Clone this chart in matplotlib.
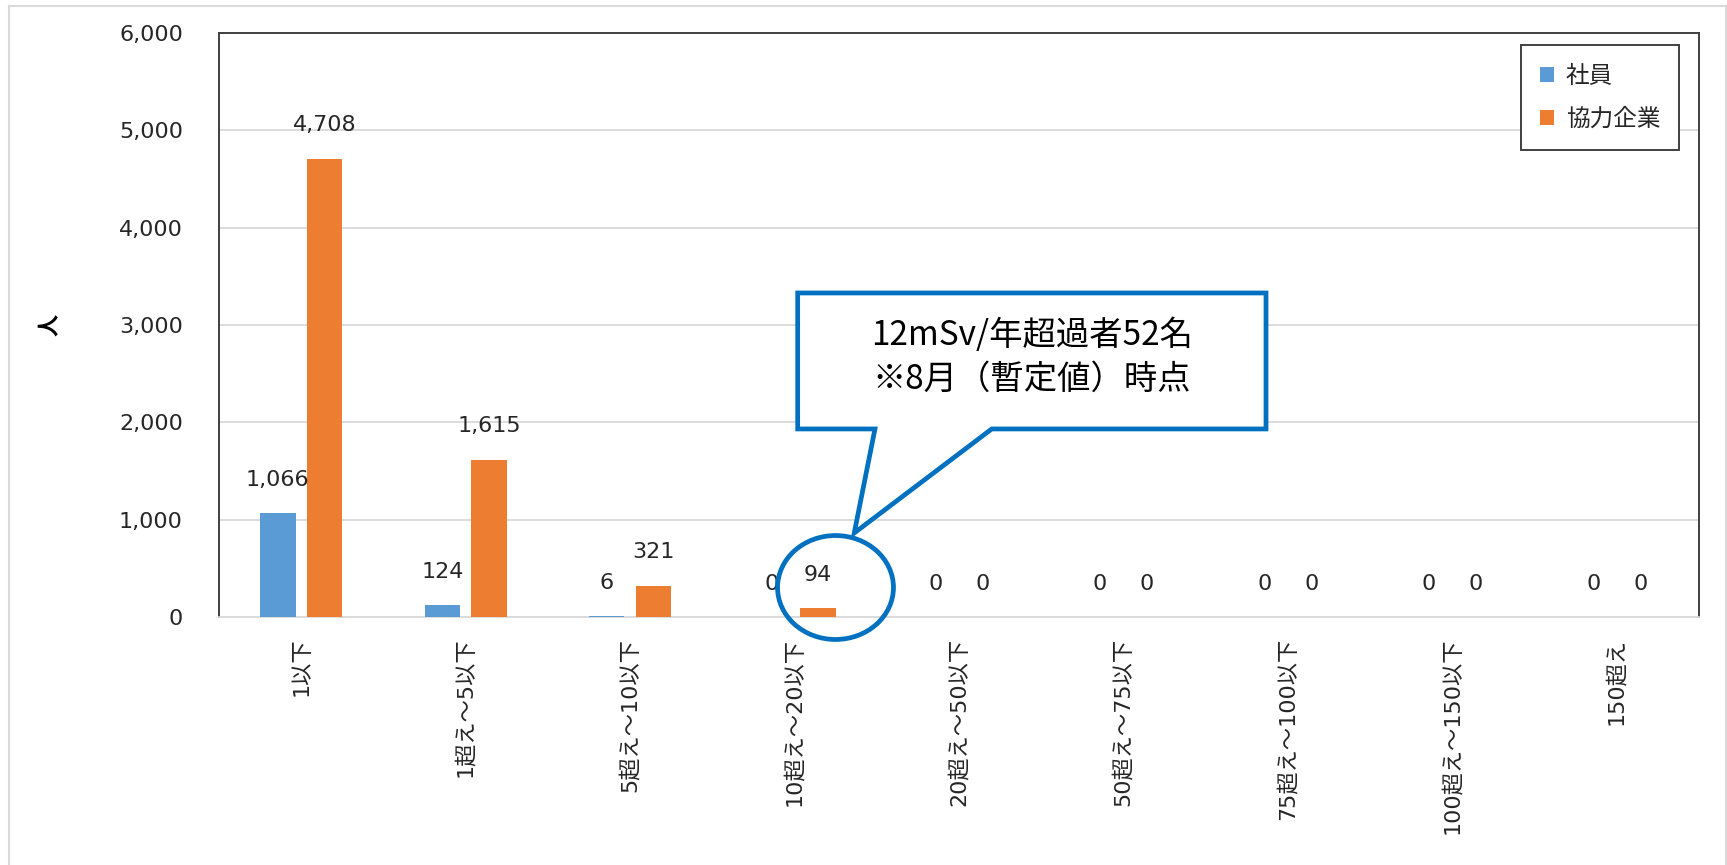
import matplotlib
matplotlib.use("Agg")
import matplotlib.pyplot as plt
import numpy as np
from matplotlib.patches import Patch, Polygon, Ellipse
from matplotlib.lines import Line2D

plt.rcParams['font.family'] = ['DejaVu Sans', 'Noto Sans CJK JP']

# --- datos ---
categories = ["1以下", "1超え～5以下", "5超え～10以下", "10超え～20以下", "20超え～50以下",
              "50超え～75以下", "75超え～100以下", "100超え～150以下", "150超え"]
employees = [1066, 124, 6, 0, 0, 0, 0, 0, 0]        # 社員
contractors = [4708, 1615, 321, 94, 0, 0, 0, 0, 0]  # 協力企業
series_names = ["社員", "協力企業"]
y_ticks = [0, 1000, 2000, 3000, 4000, 5000, 6000]

blue = '#5B9BD5'
orange = '#ED7D31'
text_col = '#262626'

W, H = 1727, 865
fig = plt.figure(figsize=(W / 100, H / 100), dpi=100)
ax = fig.add_axes([219 / W, (H - 617) / H, 1480 / W, 584 / H])

x = np.arange(len(categories))
bw = 0.215
off = 0.142
b1 = ax.bar(x - off, employees, bw, color=blue, zorder=3)
b2 = ax.bar(x + off, contractors, bw, color=orange, zorder=3)

# etiquetas de valor encima de las barras
for bars in (b1, b2):
    for bar in bars:
        h = bar.get_height()
        ax.annotate(f"{h:,.0f}", (bar.get_x() + bar.get_width() / 2, h),
                    xytext=(0, 24), textcoords='offset points',
                    ha='center', va='center', fontsize=16, color=text_col, zorder=4)

ax.set_xlim(-0.5, len(categories) - 0.5)
ax.set_ylim(0, 6000)
ax.set_yticks(y_ticks)
ax.set_yticklabels([f"{v:,}" for v in y_ticks])
ax.set_xticks(x)
ax.set_xticklabels(categories, rotation=90, va='top', ha='center')
ax.tick_params(axis='both', length=0, labelsize=16, labelcolor=text_col)
ax.tick_params(axis='y', pad=26)
ax.tick_params(axis='x', pad=15)

ax.grid(axis='y', color='#D9D9D9', lw=1.3, zorder=0)
ax.set_axisbelow(True)
for s in ('left', 'top', 'right'):
    ax.spines[s].set_color('#404040')
    ax.spines[s].set_linewidth(1.4)
ax.spines['bottom'].set_color('#D9D9D9')
ax.spines['bottom'].set_linewidth(1.3)

ax.set_ylabel("人", rotation=90, va='center', fontsize=16, fontweight='bold', color='black')
ax.yaxis.set_label_coords(-0.114, 0.5)

# leyenda
handles = [Patch(facecolor=blue, edgecolor='none'), Patch(facecolor=orange, edgecolor='none')]
leg = ax.legend(handles, series_names, loc='upper right', bbox_to_anchor=(0.9865, 0.9795),
                borderaxespad=0, fancybox=False, fontsize=17, handlelength=0.6,
                handleheight=0.6, handletextpad=0.5, labelspacing=0.8,
                borderpad=0.8, framealpha=1)
leg.get_frame().set_edgecolor('#404040')
leg.get_frame().set_linewidth(1.4)
for t in leg.get_texts():
    t.set_color(text_col)

# globo de comentario y círculo
callout = [(3.019, 3329), (5.867, 3329), (5.867, 1932), (4.199, 1932),
           (3.363, 863), (3.489, 1932), (3.019, 1932)]
ax.add_patch(Polygon(callout, closed=True, facecolor='white', edgecolor='#0070C0',
                     lw=3.4, joinstyle='miter', zorder=5))
ax.text(4.443, 2666, "12mSv/年超過者52名\n※8月（暫定値）時点", ha='center', va='center',
        fontsize=24, linespacing=1.3, family=['Noto Sans CJK JP', 'DejaVu Sans'],
        color='black', zorder=6)
ax.add_patch(Ellipse((3.249, 303), 0.705, 1068, facecolor='none', edgecolor='#0070C0',
                     lw=3.4, zorder=5, clip_on=False))

# marco exterior
fc = '#D9D9D9'
fig.add_artist(Line2D([8.5 / W, 8.5 / W], [0, 1 - 6 / H], transform=fig.transFigure, color=fc, lw=1.5))
fig.add_artist(Line2D([8.5 / W, 1], [1 - 6 / H, 1 - 6 / H], transform=fig.transFigure, color=fc, lw=1.5))
fig.add_artist(Line2D([1 - 1 / W, 1 - 1 / W], [0, 1 - 6 / H], transform=fig.transFigure, color=fc, lw=1.5))

fig.savefig("out.png", dpi=100, facecolor='white')
plt.close(fig)
